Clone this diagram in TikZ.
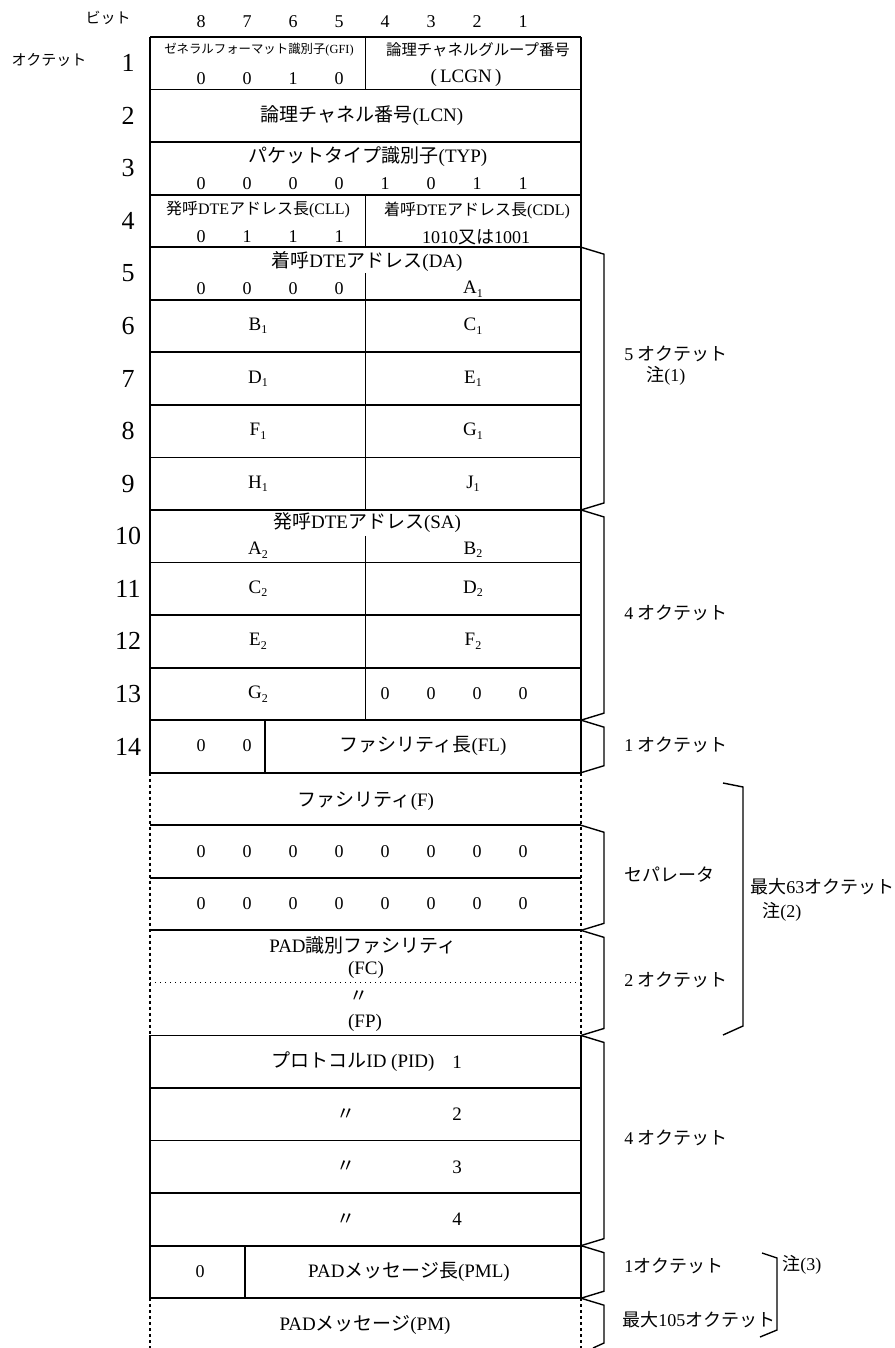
\documentclass[tikz,border=0pt]{standalone}
\usepackage{fontspec}
\setmainfont{Liberation Serif}
\newfontfamily\jpfont{Noto Sans CJK JP}
\usetikzlibrary{positioning}

\newcommand{\ja}[1]{{\jpfont #1}}
\newcommand{\lsub}[2]{#1\raisebox{-0.4ex}{\fontsize{6}{6}\selectfont #2}}

\tikzset{
  txt/.style={inner sep=0pt, font=\fontsize{9.5}{11}\selectfont},
  tinytxt/.style={inner sep=0pt, font=\fontsize{6.2}{7}\selectfont},
  smalltxt/.style={inner sep=0pt, font=\fontsize{8}{9}\selectfont},
  bitval/.style={inner sep=0pt, font=\fontsize{9}{10}\selectfont},
  octno/.style={inner sep=0pt, font=\fontsize{13}{14}\selectfont},
  sidetxt/.style={inner sep=0pt, anchor=west, font=\fontsize{9}{10}\selectfont},
  frame/.style={line width=0.9pt},
  thinrule/.style={line width=0.5pt, dotted},
  openside/.style={line width=0.6pt, dash pattern=on 1.5pt off 1.5pt},
  brace/.style={line width=0.7pt},
}

\begin{document}
\begin{tikzpicture}[x=0.5pt, y=-0.5pt]
  \useasboundingbox (0,0) rectangle (894,1348);
  \foreach \k in {0,...,24} {
    \coordinate (L\k) at (150,{37+52.55*\k});
    \coordinate (M\k) at (365.5,{37+52.55*\k});
    \coordinate (R\k) at (581,{37+52.55*\k});
  }
  \coordinate (Lend) at (150,1348);
  \coordinate (Rend) at (581,1348);

  % table lines
  \foreach \k in {0,...,17,19,20,...,24} \draw[frame] (L\k) -- (R\k);
  \draw[thinrule] (L18) -- (R18);
  \draw[frame] (L0) -- (L14) (R0) -- (R14) (L19) -- (L24) (R19) -- (R24);
  \draw[openside] (L14) -- (L19) (R14) -- (R19) (L24) -- (Lend) (R24) -- (Rend);
  \draw[frame] (M0) -- (M1) (M3) -- (M4) ([yshift=-13pt]M4) -- (M9) ([yshift=-13pt]M9) -- (M13);
  \draw[frame] ([xshift=57.5pt]L13) -- ([xshift=57.5pt]L14) ([xshift=47.5pt]L23) -- ([xshift=47.5pt]L24);

  % headings
  \node[smalltxt, font=\fontsize{7.5}{9}\selectfont] (bitlbl) at (108,18) {\ja{ビット}};
  \node[smalltxt, font=\fontsize{7.5}{9}\selectfont] (octlbl) at (49,60) {\ja{オクテット}};
  \foreach \b [count=\i] in {8,7,6,5,4,3,2,1}
    \node[bitval] (bit\b) at ({201+46*(\i-1)},22) {\b};
  \foreach \k in {1,...,14}
    \node[octno] (num\k) at (128,{37+52.55*(\k-0.5)}) {\k};

  % octets 1-4
  \node[tinytxt] (gfi) at (259,50) {\ja{ゼネラルフォーマット識別子}(GFI)};
  \foreach \v [count=\i] in {0,0,1,0}
    \node[bitval] (gfi\i) at ({201+46*(\i-1)},79) {\v};
  \node[smalltxt, font=\fontsize{7.7}{9}\selectfont] (lcgn) at (478,50) {\ja{論理チャネルグループ番号}};
  \node[txt] (lcgnab) at (466,78) {(\,LCGN\,)};
  \node[txt] (lcn) at (362,116) {\ja{論理チャネル番号}(LCN)};
  \node[txt] (typ) at (368,157) {\ja{パケットタイプ識別子}(TYP)};
  \foreach \v [count=\i] in {0,0,0,0,1,0,1,1}
    \node[bitval] (typ\i) at ({201+46*(\i-1)},184) {\v};
  \node[smalltxt] (cll) at (258,210) {\ja{発呼}DTE\ja{アドレス長}(CLL)};
  \foreach \v [count=\i] in {0,1,1,1}
    \node[bitval] (cll\i) at ({201+46*(\i-1)},237) {\v};
  \node[smalltxt] (cdl) at (477,210) {\ja{着呼}DTE\ja{アドレス長}(CDL)};
  \node[bitval] (cdlval) at (476,237) {1010\ja{又は}1001};

  % called address
  \node[txt] (da) at (367,262) {\ja{着呼}DTE\ja{アドレス}(DA)};
  \foreach \i in {1,...,4}
    \node[bitval] (da\i) at ({201+46*(\i-1)},289) {0};
  \node[txt] (A1) at (473,289) {\lsub{A}{1}};
  \foreach \l/\r [count=\k from 6] in {B/C, D/E, F/G, H/J} {
    \node[txt] (\l1) at (258,{37+52.55*(\k-0.5)}) {\lsub{\l}{1}};
    \node[txt] (\r1) at (473,{37+52.55*(\k-0.5)}) {\lsub{\r}{1}};
  }

  % calling address
  \node[txt] (sa) at (367,523) {\ja{発呼}DTE\ja{アドレス}(SA)};
  \node[txt] (A2) at (258,550) {\lsub{A}{2}};
  \node[txt] (B2) at (473,550) {\lsub{B}{2}};
  \foreach \l/\r [count=\k from 11] in {C/D, E/F} {
    \node[txt] (\l2) at (258,{37+52.55*(\k-0.5)}) {\lsub{\l}{2}};
    \node[txt] (\r2) at (473,{37+52.55*(\k-0.5)}) {\lsub{\r}{2}};
  }
  \node[txt] (G2) at (258,694) {\lsub{G}{2}};
  \foreach \i in {1,...,4}
    \node[bitval] (pad\i) at ({385+46*(\i-1)},694) {0};

  % facilities
  \node[bitval] (fl1) at (201,746) {0};
  \node[bitval] (fl2) at (247,746) {0};
  \node[txt] (fl) at (423,746) {\ja{ファシリティ長}(FL)};
  \node[txt] (fac) at (366,801) {\ja{ファシリティ}(F)};
  \foreach \i in {1,...,8} {
    \node[bitval] (sepa\i) at ({201+46*(\i-1)},852) {0};
    \node[bitval] (sepb\i) at ({201+46*(\i-1)},904) {0};
  }
  \node[txt] (fcname) at (363,945) {PAD\ja{識別ファシリティ}};
  \node[txt] (fc) at (366,970) {(FC)};
  \node[txt] (fpditto) at (359,997) {\ja{〃}};
  \node[txt] (fp) at (365,1023) {(FP)};

  % protocol id and message
  \node[txt] (pid) at (353,1062) {\ja{プロトコル}ID (PID)};
  \node[txt] (pid1) at (457,1062) {1};
  \foreach \k in {2,3,4} {
    \node[txt] (pidditto\k) at (346,{37+52.55*(18.5+\k)}) {\ja{〃}};
    \node[txt] (pid\k) at (457,{37+52.55*(18.5+\k)}) {\k};
  }
  \node[bitval] (pml0) at (200,1272) {0};
  \node[txt] (pml) at (409,1272) {PAD\ja{メッセージ長}(PML)};
  \node[txt] (pm) at (365,1325) {PAD\ja{メッセージ}(PM)};

  % braces and notes
  \foreach \a/\b in {4/9, 9/13, 13/14, 15/17, 17/19, 19/23, 23/24}
    \draw[brace] (R\a) -- ++(23,7) -- ([shift={(23,-7)}]R\b) -- (R\b);
  \draw[brace] (R24) -- ++(23,7) -- ([shift={(23,-5)}]Rend) -- ([shift={(12,0)}]Rend);
  \coordinate (g63t) at (723,783);
  \coordinate (g63b) at (723,1035);
  \draw[brace] (g63t) -- ++(20,4) -- ([shift={(20,-9)}]g63b) -- (g63b);
  \coordinate (g3t) at (762,1253);
  \coordinate (g3b) at (760,1337);
  \draw[brace] (g3t) -- ++(15,5) -- ([shift={(17,-7)}]g3b) -- (g3b);

  \node[sidetxt] (oct5) at (624,354) {5 \ja{オクテット}};
  \node[sidetxt] (note1) at (646,376) {\ja{注}(1)};
  \node[sidetxt] (oct4a) at (624,613) {4 \ja{オクテット}};
  \node[sidetxt] (oct1a) at (624,745) {1 \ja{オクテット}};
  \node[sidetxt] (sepname) at (624,875) {\ja{セパレータ}};
  \node[sidetxt] (oct2) at (624,980) {2 \ja{オクテット}};
  \node[sidetxt] (max63) at (750,887) {\ja{最大}63\ja{オクテット}};
  \node[sidetxt] (note2) at (762,912) {\ja{注}(2)};
  \node[sidetxt] (oct4b) at (624,1138) {4 \ja{オクテット}};
  \node[sidetxt] (oct1b) at (624,1266) {1\ja{オクテット}};
  \node[sidetxt] (max105) at (622,1320) {\ja{最大}105\ja{オクテット}};
  \node[sidetxt] (note3) at (782,1265) {\ja{注}(3)};
\end{tikzpicture}
\end{document}
